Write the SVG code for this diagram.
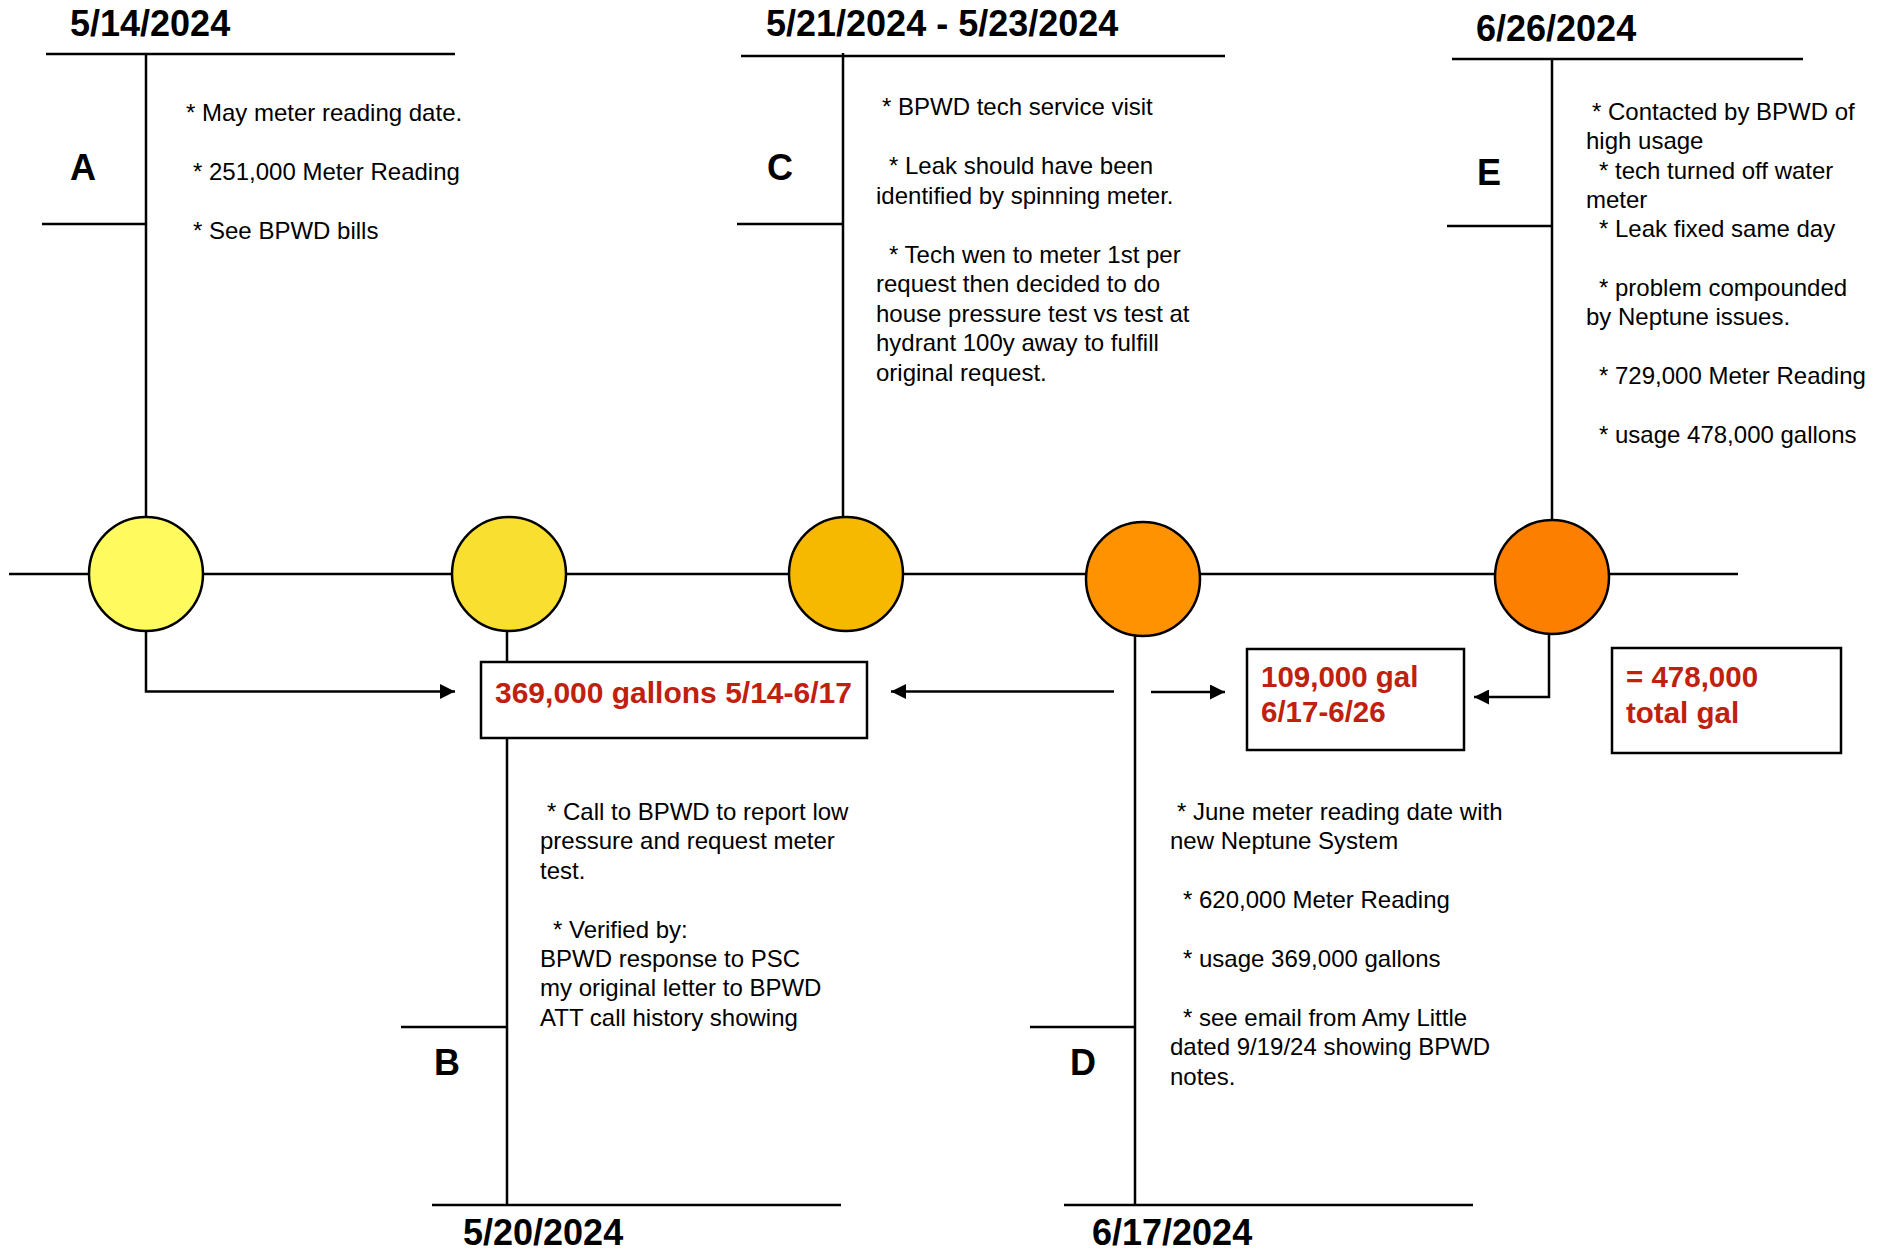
<svg xmlns="http://www.w3.org/2000/svg" width="1882" height="1253" viewBox="0 0 1882 1253">
<defs>
<style>
.ln{stroke:#000;stroke-width:2.5;fill:none}
.t{font-family:"Liberation Sans",Arial,Helvetica,sans-serif;font-size:24px;fill:#000}
.date{font-family:"Liberation Sans",Arial,Helvetica,sans-serif;font-size:36px;font-weight:bold;fill:#000}
.let{font-family:"Liberation Sans",Arial,Helvetica,sans-serif;font-size:36px;font-weight:bold;fill:#000}
.red{font-family:"Liberation Sans",Arial,Helvetica,sans-serif;font-size:29.5px;font-weight:bold;fill:#C0200E}
.node{stroke:#000;stroke-width:2.5}
.box{fill:#fff;stroke:#000;stroke-width:2.5}
</style>
<marker id="ah" viewBox="0 0 10 10" refX="10" refY="5" markerWidth="16" markerHeight="15" markerUnits="userSpaceOnUse" orient="auto">
<path d="M0,0 L10,5 L0,10 z" fill="#000"/>
</marker>
</defs>
<rect x="0" y="0" width="1882" height="1253" fill="#fff"/>

<g id="connectors">
<line class="ln" x1="9" y1="574" x2="1738" y2="574"/>
<line class="ln" x1="146" y1="54" x2="146" y2="518"/>
<line class="ln" x1="843" y1="53" x2="843" y2="518"/>
<line class="ln" x1="1552" y1="59" x2="1552" y2="521"/>
<line class="ln" x1="507" y1="630" x2="507" y2="662"/>
<line class="ln" x1="507" y1="738" x2="507" y2="1205"/>
<line class="ln" x1="1135" y1="636" x2="1135" y2="1205"/>
<path class="ln" d="M146,631 V691.5 H455" marker-end="url(#ah)"/>
<line class="ln" x1="1114" y1="691.5" x2="891" y2="691.5" marker-end="url(#ah)"/>
<line class="ln" x1="1151" y1="692" x2="1225" y2="692" marker-end="url(#ah)"/>
<path class="ln" d="M1549,633 V697 H1474" marker-end="url(#ah)"/>
</g>

<g id="panel-A">
<text class="date" x="70" y="36">5/14/2024</text>
<line class="ln" x1="46" y1="54" x2="455" y2="54"/>
<line class="ln" x1="42" y1="224" x2="146" y2="224"/>
<text class="let" x="70" y="180">A</text>
<text class="t" x="186" y="121">* May meter reading date.</text>
<text class="t" x="193" y="180">* 251,000 Meter Reading</text>
<text class="t" x="193" y="239">* See BPWD bills</text>
</g>

<g id="panel-C">
<text class="date" x="766" y="36">5/21/2024 - 5/23/2024</text>
<line class="ln" x1="741" y1="56" x2="1225" y2="56"/>
<line class="ln" x1="737" y1="224" x2="843" y2="224"/>
<text class="let" x="767" y="180">C</text>
<text class="t" x="882" y="115">* BPWD tech service visit</text>
<text class="t" x="889" y="174">* Leak should have been</text>
<text class="t" x="876" y="203.5">identified by spinning meter.</text>
<text class="t" x="889" y="262.5">* Tech wen to meter 1st per</text>
<text class="t" x="876" y="292">request then decided to do</text>
<text class="t" x="876" y="321.5">house pressure test vs test at</text>
<text class="t" x="876" y="351">hydrant 100y away to fulfill</text>
<text class="t" x="876" y="380.5">original request.</text>
</g>

<g id="panel-E">
<text class="date" x="1476" y="41">6/26/2024</text>
<line class="ln" x1="1452" y1="59" x2="1803" y2="59"/>
<line class="ln" x1="1447" y1="226" x2="1552" y2="226"/>
<text class="let" x="1477" y="185">E</text>
<text class="t" x="1592" y="120">* Contacted by BPWD of</text>
<text class="t" x="1586" y="149.3">high usage</text>
<text class="t" x="1599" y="178.6">* tech turned off water</text>
<text class="t" x="1586" y="208">meter</text>
<text class="t" x="1599" y="237.2">* Leak fixed same day</text>
<text class="t" x="1599" y="296">* problem compounded</text>
<text class="t" x="1586" y="325">by Neptune issues.</text>
<text class="t" x="1599" y="384">* 729,000 Meter Reading</text>
<text class="t" x="1599" y="443">* usage 478,000 gallons</text>
</g>

<g id="panel-B">
<line class="ln" x1="401" y1="1027" x2="507" y2="1027"/>
<line class="ln" x1="432" y1="1205" x2="841" y2="1205"/>
<text class="let" x="434" y="1075">B</text>
<text class="date" x="463" y="1245">5/20/2024</text>
<text class="t" x="547" y="820">* Call to BPWD to report low</text>
<text class="t" x="540" y="849.4">pressure and request meter</text>
<text class="t" x="540" y="878.8">test.</text>
<text class="t" x="553" y="937.6">* Verified by:</text>
<text class="t" x="540" y="967">BPWD response to PSC</text>
<text class="t" x="540" y="996.4">my original letter to BPWD</text>
<text class="t" x="540" y="1025.8">ATT call history showing</text>
</g>

<g id="panel-D">
<line class="ln" x1="1030" y1="1027" x2="1135" y2="1027"/>
<line class="ln" x1="1064" y1="1205" x2="1473" y2="1205"/>
<text class="let" x="1070" y="1075">D</text>
<text class="date" x="1092" y="1245">6/17/2024</text>
<text class="t" x="1177" y="820">* June meter reading date with</text>
<text class="t" x="1170" y="849.4">new Neptune System</text>
<text class="t" x="1183" y="908">* 620,000 Meter Reading</text>
<text class="t" x="1183" y="967">* usage 369,000 gallons</text>
<text class="t" x="1183" y="1025.8">* see email from Amy Little</text>
<text class="t" x="1170" y="1055">dated 9/19/24 showing BPWD</text>
<text class="t" x="1170" y="1084.6">notes.</text>
</g>

<g id="circle-A"><circle class="node" cx="146" cy="574" r="57" fill="#FFFA5E"/></g>
<g id="circle-B"><circle class="node" cx="509" cy="574" r="57" fill="#F9E030"/></g>
<g id="circle-C"><circle class="node" cx="846" cy="574" r="57" fill="#F7B800"/></g>
<g id="circle-D"><circle class="node" cx="1143" cy="579" r="57" fill="#FE9200"/></g>
<g id="circle-E"><circle class="node" cx="1552" cy="577" r="57" fill="#FC7F00"/></g>

<g id="box-369">
<rect class="box" x="481" y="662" width="386" height="76"/>
<text class="red" x="495" y="703" style="font-size:30px">369,000 gallons 5/14-6/17</text>
</g>
<g id="box-109">
<rect class="box" x="1247" y="649" width="217" height="101"/>
<text class="red" x="1261" y="687">109,000 gal</text>
<text class="red" x="1261" y="722">6/17-6/26</text>
</g>
<g id="box-478">
<rect class="box" x="1612" y="648" width="229" height="105"/>
<text class="red" x="1626" y="687">= 478,000</text>
<text class="red" x="1626" y="723">total gal</text>
</g>
</svg>
